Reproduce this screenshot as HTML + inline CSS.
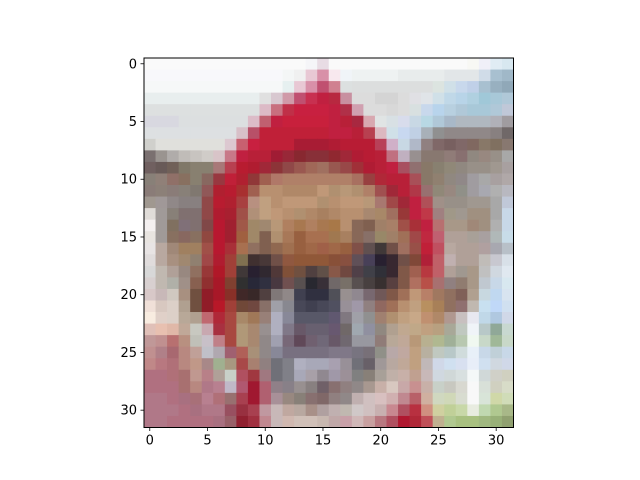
<!DOCTYPE html>
<html><head><meta charset="utf-8"><style>
html,body{margin:0;padding:0;background:#fff;}
svg{display:block;font-family:"DejaVu Sans","Liberation Sans",sans-serif;}
</style></head><body>
<svg id="chart" width="640" height="480" viewBox="0 0 640 480" xmlns="http://www.w3.org/2000/svg">
<rect width="640" height="480" fill="#fff"/>
<g id="pix"></g>
<g id="axes"></g>
</svg>
<script>
const xTicks = [0,5,10,15,20,25,30];
const yTicks = [0,5,10,15,20,25,30];
const rowsQ1 = [
"fafafa fafafa fafafa fafafa fafafa fafafa fafafa fafafa fafafa fafafa fafafa fafafa fafafa fafafa f5f5f8 e8dce4",
"f8f8fb f8f8fb f8f8fb f8f8fb f8f8fb f8f8fb f8f8fb f8f8fb f8f8fb f8f8fb f8f8fb f8f8fb f4f6f6 f0f0f0 e8c8d4 d890a8",
"f6f8f8 f6f8f8 f6f8f8 f6f8f8 f6f8f8 f6f8f8 f6f8f8 f6f8f8 f6f8f8 f6f8f8 f6f8f8 f6f8f8 e6f0f0 e8c8d4 d890a8 c05070",
"e8eeee e8eeee e8eeee e8eeee e8eeee e8eeee e8eeee e8eeee e8eeee e8eeee e0e0e0 d8c8d0 d09aa8 c05070 c83050 c02040",
"dde0e0 dde0e0 dde0e0 dde0e0 dde0e0 dde0e0 dde0e0 dde0e0 dde0e0 dde0e0 dcbac6 c8707f c03048 c82040 c82040 c82040",
"d8d8e0 d8d8e0 d8d8e0 dcdfe0 dcdfe0 dcdfe0 dcdfe0 dcdfe0 dcdfe0 dcbcc8 c06070 c02040 c8203c c8203c c8203c c8203c",
"dde0e2 dde0e2 dde0e2 dde0e2 dde0e2 dde0e2 dde0e2 dde0e2 d8c0c8 b85068 c02038 c02038 c02038 c02038 c02038 c02038",
"d0d0cc e0e0dc e0e0dc e0e0dc e0e0dc e0e0dc e0e0dc dcc8d0 c86070 c82040 c02038 c02038 c02038 a81c34 a81c34 a81c34",
"7a7070 9a9490 b0acaa c0bcb8 c8c4c0 d0ccc8 d8c4c8 c87888 c02040 b82038 b82038 a01c34 982838 882830 883038 883038",
"706060 685a58 706058 807868 888070 888070 a87878 b84050 b81c30 b01c30 a02838 8c3438 904848 9a5850 a06858 a07060",
"888078 908078 907068 887060 888070 886860 983840 c02038 b02030 903838 a06050 b07868 b08068 b08068 b08068 b08068",
"8a7c78 8c8078 8a7c78 888078 807870 905858 b02030 b81c30 a83030 a06050 b89070 b89070 b08868 b08868 b08868 c09878",
"a09890 a09898 908888 888080 888080 904848 b81c30 b02030 a84040 b89080 c0a080 b89070 c09878 c09878 c09878 b09070",
"e0dcd8 a09a98 888078 807070 807070 904848 b01c30 a82030 a05048 b09078 c0a080 c09878 b89070 b09070 b08868 a88060",
"f4f0f0 a09a98 807060 807078 807070 804848 b81830 a02030 a05848 a08868 a08870 b89878 b08060 a87850 b08060 a87850",
"e8e4e0 a09a98 887060 886860 887060 904840 b81830 a02030 a06040 a08868 806050 b09070 a87858 986040 a87050 a87050"
];
const rowsQ2 = [
"fafafa fafafa fafafa fafafa fafafa fafafa fafafa fafafa fafafa fafafa fafafa fafafa f8f8f4 f0f0f8 e0ecf4 d8e8f0",
"f8e8ee f0f4f8 eef2f2 eef2f2 eef2f2 eef2f2 e8ecec e8ecec e8ecec e8ecec e2e6e8 e2e6e8 e2e6e8 d0dce8 a8c0d0 a0b8c8",
"d08090 dce0e0 dcdede dcdede dcdede dcdede dcdede dcdede dcdede dce4e0 d0e0e8 c8d8ec c0d0e8 a8c0d0 98b0c0 90a8b8",
"b82840 c890a0 dcdcdc dcdcdc d4d4d4 d4d4d4 dcdcdc e0e0e4 e0e4e8 d0e0e8 c0d8e8 b8d4e8 b0d0e0 a0c8d8 a8c8d8 b0c8d8",
"c02040 b03048 d0a0b0 dcdcdc dcdcdc d8d8d8 dcdcdc d8e0e0 c8d8ec b8d4ec b8d0e0 b0c8d8 a8c8d8 a8c8d8 b0c8d8 c0c8d8",
"c02040 b82038 a82840 d8a8b0 e0e4e4 d8e0e4 d8dcec c8d8e4 b8d8e4 b0c8d8 a8b8c8 b0b8c0 b0b8c0 b0b8c0 b0b0b8 a09ca0",
"c02040 c02040 b82038 b84050 dcb8c0 d0e0e8 c8d8f0 c0d0e4 a8b0b8 909090 908888 908888 908888 908888 888080 706868",
"b01c34 b81c34 b81c34 b81c34 b84058 d0b0c8 c8d8e4 b0b8c8 908080 806868 786060 806868 806860 887868 807060 887870",
"902830 a02838 b01c34 b81c34 b82038 c07080 c0b0c0 989090 887870 887870 907c78 887070 908880 988880 989088 a8a8a8",
"985850 984848 a03038 b01c34 b82038 c02040 a85060 907070 887868 888070 908878 908880 989088 989088 a09890 a8a0a0",
"b08068 b08068 a87060 984040 b02838 b82038 b82038 a85058 887868 908070 908880 908888 a09ca0 a8a8a8 a8a0a0 b0a8a8",
"b09070 b89878 b09070 b08068 a05050 a02838 b82038 b03848 987070 908878 988880 909088 a09ca0 a8a8b0 b0b0b0 b8b8c0",
"b89070 c09878 c09878 b89878 a87870 a04848 a02838 c02040 b05058 a09088 989088 989088 a09890 a09890 a8a8a8 c0c8d8",
"b08868 b89070 b89070 a88870 a88868 a07060 983838 c02040 c03848 a08080 a09888 a09890 a09080 a09080 a8a8a8 c8d8e8",
"a87848 b89070 886858 806050 a08068 a88068 a05048 a83038 c02040 b87070 a89888 a89888 a08878 a09080 b0b0b0 c8d8e8",
"a07850 a88060 886858 887068 988868 a08068 a07058 a04848 c02840 c06070 b0a098 b0a098 a8a098 a8a0a0 b0b8b8 c8dce8"
];
const rowsQ3 = [
"e8e4e4 b8a8a0 a08878 a08060 a08060 a05048 b81830 a83038 a87050 907060 806050 906850 a07050 986040 a06848 a06048",
"e0dcdc b8a8a0 a89080 a08870 908070 a04848 b01c30 a04038 807050 403030 483838 705048 905840 905838 905838 905838",
"d8d8d8 c0b8b0 b0a098 988880 907060 983838 b01828 a04038 403838 282030 302830 503838 805038 705040 504040 605048",
"d8d0d0 c0b8b0 b0b0a8 a09088 886050 903030 a81828 804030 303030 282838 303040 483840 705050 585050 282830 383038",
"d8c8c8 c8b8b8 d0c8c0 a89080 705040 901c28 a81828 883028 402828 382828 504040 807878 908888 404050 303040 303040",
"f0e0d8 d8c8c0 dcd0c8 b0a090 705040 901c28 b81828 a04038 704838 704840 887068 a0a0a8 888890 484858 404050 484858",
"f8ece0 e0d0c8 dcd0c8 b8a898 b0a090 c06870 b02838 a84840 a88868 a07858 988078 b0b0c0 888898 585868 585868 585868",
"e0c0b8 e8c0b0 e0b8a8 c0a898 c8c8c0 c8a8b0 a83040 a84840 b09878 a88870 989090 b0b0c0 807888 685868 686070 686070",
"c09898 c09090 b87070 b89080 c0c0b8 c8c0c8 c08088 a84840 b09878 a88870 908888 a0a0b0 786878 604858 706070 706878",
"c09090 b08088 a86870 b88880 c0a098 c0c0c8 b0a8b0 a06070 b06058 a89078 908888 888898 787080 787080 787080 787080",
"c08888 b87880 b07078 b88880 c09888 a88888 a0b090 a89880 a84848 a88070 908080 707078 808088 b0b0c0 a8a8b8 a8a8b8",
"b07080 b07080 b07078 a87070 c09890 b88088 b0a098 c8d0c8 b05060 a03840 a07880 707078 808088 a8a8b8 a8a0a8 908890",
"b07080 b07080 b07080 a87070 b88880 b07888 b88090 c0b8c8 b05870 a01830 b06070 908088 888088 989090 888080 706068",
"b07888 b07888 b07080 a87080 a87078 b88090 b07078 987070 a84050 a01830 b06070 a89098 988880 888078 887070 806868",
"b07888 b07888 b07888 b07080 a87080 b07888 b07888 985060 983040 a84050 c098a0 c8b8b8 c0a8a0 b8a8a0 a89088 b0a0a0",
"b07888 b07888 b07080 b07080 b07080 b07080 a87080 986068 902030 a03040 c08890 c8b8b8 d0b8b0 d0c0b8 d0c0b8 c8b8b0"
];
const rowsQ4 = [
"a06848 986040 805048 605050 403838 705048 a07060 985048 c02038 c05060 b8a8a0 b0a098 b0a098 b0a0a0 a8a8b0 b8c0c8",
"885038 885040 605058 484058 282030 382830 705048 804838 b02038 c06068 c0b0b0 b0a098 b0a098 c0bcb8 c8c8d0 d8e0e8",
"885848 704840 504048 404048 303038 382830 805848 a06050 b83840 c06068 b0a098 a09890 a89888 c0c0c0 d0d8e0 e0e8f0",
"706868 787068 585050 484040 383030 584040 805848 b07060 b85048 a87070 908080 907c70 a89888 c0c8d0 c8d8e8 d8e8f0",
"505058 989090 908890 786870 705858 805848 a07058 c09878 b88068 a07860 907060 806058 b0a090 c8d8e0 c0d8f0 d8e4f0",
"505060 989098 a098a8 908080 906860 a07058 b89070 c0a080 b89060 a88058 907060 907070 c0b8b0 c8e0f0 c0d8f8 d0e0f0",
"605870 807880 a0a0a8 909090 a08070 b09070 c0a080 c8a888 c09070 b08868 b09890 c8c0c0 e8e8f0 c0d8e8 b0c8e0 d0d8e8",
"685870 706868 a0a8b0 9090a0 908880 b0a090 c0a890 c0a888 c0a080 b8a080 a8a898 c0c8c0 f0f4f8 b8c8c8 90a898 c8d8d0",
"685868 706870 9898a0 9898a0 907c78 b8a898 c0a898 b89878 b8b090 b0b890 a0b098 b8c8b0 f0f8f0 c8d8c8 a0b898 c8d8c8",
"807888 807888 787480 787078 909088 b8a8a8 c0a8a0 c0a080 b8b0a0 c0c8c0 b8c8c8 d0dcdc e8f0f8 c8d8e8 c0d0d8 c8d8e8",
"a8a0b0 989098 707078 686068 a09898 b8a8a0 c0a898 c0a080 c0b8b8 d0d8e8 d0e0f0 d8e0f0 e8eef8 d0e0f0 d0d8e0 d0d8e8",
"a098a8 9c9098 808080 888078 a8a098 c0b0a8 c8b0a8 c0a090 c8b8b8 d0d8e0 d0d8d8 d8e0e0 f4f8f8 d0d8d8 d0d0c8 d0d0c0",
"887070 908080 908888 a89890 c8b0a8 d8c8c0 c8a8a8 c89090 c8b0a8 c8d0c8 c8c8c0 d8d8d0 f8f8f8 d8e0d8 d0d0c0 d8dcc8",
"908080 908888 c0b0b0 d0c0c0 d8c0c0 d0b0b0 c08890 b86068 d0b0a0 d0d8c0 d0d8b8 d8dcd0 f8f8f8 d8e4d8 d0d8a8 d0dcb8",
"c0b0b0 c0b8b0 d0c8c8 d0c0c0 c8b0b0 c88890 b05060 b83040 d09080 d0d0a0 c0d098 c8d8a8 e8ece0 c0d8b0 b0c890 a8b888",
"c0a8a8 c8a0a8 d0b8b8 c8a0a0 b87880 b05060 b01830 b02838 c05058 c0b090 b0c890 a8c080 a8c080 a0b880 98b078 90a070"
];
const rows = [];
for (let i = 0; i < 16; i++) rows.push((rowsQ1[i] + " " + rowsQ2[i]).split(" "));
for (let i = 0; i < 16; i++) rows.push((rowsQ3[i] + " " + rowsQ4[i]).split(" "));

const NS = "http://www.w3.org/2000/svg";
const X0 = 144, Y0 = 58, W = 369.5, H = 369.5, N = 32;
const cw = W / N, ch = H / N;
function xPos(c) { return X0 + c * cw; }
function yPos(r) { return Y0 + r * ch; }
const pix = document.getElementById("pix");
rows.forEach((row, r) => {
  row.forEach((col, c) => {
    const rc = document.createElementNS(NS, "rect");
    rc.setAttribute("x", xPos(c));
    rc.setAttribute("y", yPos(r));
    rc.setAttribute("width", cw + 0.4);
    rc.setAttribute("height", ch + 0.4);
    rc.setAttribute("fill", "#" + col);
    
    
    pix.appendChild(rc);
  });
});
const axes = document.getElementById("axes");
const frame = document.createElementNS(NS, "rect");
frame.setAttribute("x", X0); frame.setAttribute("y", Y0);
frame.setAttribute("width", W); frame.setAttribute("height", H);
frame.setAttribute("fill", "none"); frame.setAttribute("stroke", "#000"); frame.setAttribute("stroke-width", "1");


axes.appendChild(frame);
xTicks.forEach(t => {
  const x = xPos(t + 0.5);
  const l = document.createElementNS(NS, "line");
  l.setAttribute("x1", x); l.setAttribute("x2", x);
  l.setAttribute("y1", Y0 + H); l.setAttribute("y2", Y0 + H + 3.5);
  l.setAttribute("stroke", "#000"); l.setAttribute("stroke-width", "0.8");
  
  
  axes.appendChild(l);
  const tx = document.createElementNS(NS, "text");
  tx.setAttribute("x", x); tx.setAttribute("y", Y0 + H + 17);
  tx.setAttribute("text-anchor", "middle"); tx.setAttribute("font-size", "13");
  tx.textContent = t;
  
  
  axes.appendChild(tx);
});
yTicks.forEach(t => {
  const y = yPos(t + 0.5);
  const l = document.createElementNS(NS, "line");
  l.setAttribute("x1", X0 - 3.5); l.setAttribute("x2", X0);
  l.setAttribute("y1", y); l.setAttribute("y2", y);
  l.setAttribute("stroke", "#000"); l.setAttribute("stroke-width", "0.8");
  
  
  axes.appendChild(l);
  const tx = document.createElementNS(NS, "text");
  tx.setAttribute("x", X0 - 7); tx.setAttribute("y", y + 4.5);
  tx.setAttribute("text-anchor", "end"); tx.setAttribute("font-size", "13");
  tx.textContent = t;
  
  
  axes.appendChild(tx);
});
</script>
</body></html>
